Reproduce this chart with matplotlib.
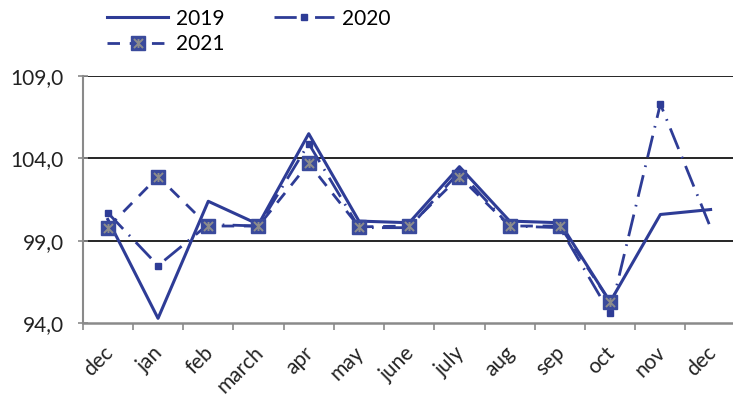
import numpy as np
import matplotlib.pyplot as plt
from matplotlib.path import Path
from matplotlib.ticker import FuncFormatter, FixedLocator
from matplotlib.transforms import ScaledTranslation

months = ['dec', 'jan', 'feb', 'march', 'apr', 'may', 'june', 'july', 'aug', 'sep', 'oct', 'nov', 'dec']
y2019 = [100.3, 94.3, 101.4, 100.0, 105.5, 100.2, 100.1, 103.5, 100.2, 100.1, 95.3, 100.6, 100.9]
y2020 = [100.7, 97.5, 100.0, 99.9, 104.9, 99.8, 99.8, 103.2, 99.9, 99.8, 94.6, 107.3, 99.8]
y2021 = [99.8, 102.9, 99.9, 99.9, 103.7, 99.85, 99.9, 102.9, 99.9, 99.9, 95.3, np.nan, np.nan]

blue = '#2E3C96'
marker_face = '#3A4A9C'
grey = '#8A8A8A'

plt.rcParams['font.family'] = ['Lato', 'DejaVu Sans']

fig = plt.figure(figsize=(7.33, 4.03), dpi=100)
ax = fig.add_axes([0.1128, 0.1978, 0.8909, 0.6136])

x = np.arange(len(months))

# asterisk marker like the excel "star"
star = Path([(0, -1), (0, 1), (-1, -1), (1, 1), (-1, 1), (1, -1)],
            [Path.MOVETO, Path.LINETO, Path.MOVETO, Path.LINETO, Path.MOVETO, Path.LINETO])

l1, = ax.plot(x, y2019, '-', color=blue, lw=2.2, label='2019', zorder=3)
l2, = ax.plot(x, y2020, color=blue, lw=2.0, marker='s', ms=4, mfc=blue, mec=blue,
              markevery=list(range(len(months) - 1)), dashes=(8, 3, 0.6, 3), label='2020', zorder=4)
l3, = ax.plot(x, y2021, color=blue, lw=2.0, marker='s', ms=10, mfc=marker_face, mec=marker_face,
              dashes=(4.5, 3.5), label='2021', zorder=5)
s3, = ax.plot(x, y2021, ls='none', marker=star, ms=6.5, mew=1.4, mec='#8C8C8C', mfc='none', zorder=6)

ax.set_xlim(-0.5, 12.5)
ax.set_ylim(94, 109)

for v in [99, 104, 109]:
    ax.axhline(v, color='black', lw=1.2, zorder=1)

ax.set_yticks([94, 99, 104, 109])
ax.yaxis.set_major_formatter(FuncFormatter(lambda v, p: '{:.1f}'.format(v).replace('.', ',')))
ax.tick_params(axis='y', direction='inout', length=7, width=1.2, color=grey, pad=10,
               labelsize=15, labelcolor='#222222')

ax.xaxis.set_major_locator(FixedLocator(np.arange(-0.5, 13, 1)))
ax.xaxis.set_minor_locator(FixedLocator(x))
ax.set_xticklabels([], minor=False)
ax.set_xticklabels(months, minor=True, rotation=45, ha='right', va='center',
                   rotation_mode='anchor', fontsize=15, color='#222222')
ax.tick_params(axis='x', which='major', direction='out', length=5, width=1.2, color=grey)
ax.tick_params(axis='x', which='minor', length=0, pad=19)
shift = ScaledTranslation(2 / 100, 0, fig.dpi_scale_trans)
for lab in ax.xaxis.get_minorticklabels():
    lab.set_transform(lab.get_transform() + shift)

for side in ['top', 'right']:
    ax.spines[side].set_visible(False)
ax.spines['left'].set_color(grey)
ax.spines['left'].set_linewidth(1.5)
ax.spines['bottom'].set_color(grey)
ax.spines['bottom'].set_linewidth(1.8)

fig.legend([l1, (l3, s3), l2], ['2019', '2021', '2020'], ncol=2, loc='upper left',
           bbox_to_anchor=(0.121, 1.025), frameon=False, fontsize=15, handlelength=2.9,
           handletextpad=0.4, columnspacing=2.35, labelspacing=0.25)

plt.savefig('out.png', dpi=100)
